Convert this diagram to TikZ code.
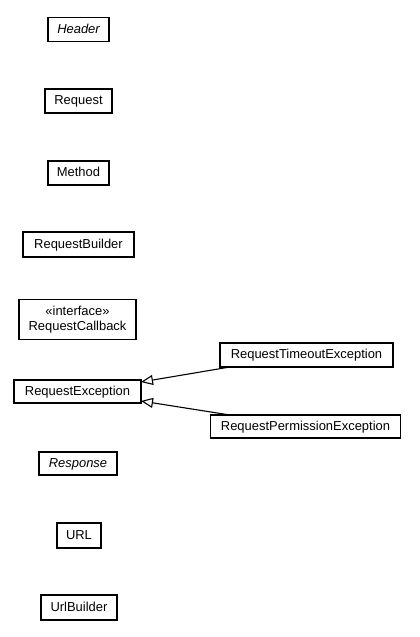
\documentclass[tikz,border=0pt]{standalone}
\usepackage{fontspec}
\setmainfont{Liberation Sans}
\usetikzlibrary{arrows.meta}
\begin{document}
\begin{tikzpicture}[x=1bp,y=-1bp,
  cls/.style={draw=black, line width=1.2bp, fill=white, inner sep=0pt, align=center,
    font=\fontsize{13}{14.5}\selectfont},
  one/.style={cls, text height=10bp, text depth=2.5bp},
  gen/.style={line width=1.1bp, -{Triangle[open, length=12bp, width=10bp, fill=white]}}]
\useasboundingbox (0,0) rectangle (419,637);
\node[one, minimum width=61bp, minimum height=24bp] (header) at (78.5,29.5) {\itshape Header};
\node[one, minimum width=67bp, minimum height=24bp] (request) at (78.5,101) {Request};
\node[one, minimum width=61bp, minimum height=24bp] (method) at (78.5,173) {Method};
\node[one, minimum width=111bp, minimum height=25bp] (builder) at (78.5,244.5) {RequestBuilder};
\node[cls, minimum width=117bp, minimum height=40bp] (callback) at (77.5,319.5) {«interface»\\RequestCallback};
\node[one, minimum width=173bp, minimum height=24bp] (timeout) at (306.5,355) {RequestTimeoutException};
\node[one, minimum width=127bp, minimum height=23bp] (exception) at (77.5,391.5) {RequestException};
\node[one, minimum width=190bp, minimum height=23bp] (permission) at (305.5,426.5) {RequestPermissionException};
\node[one, minimum width=78bp, minimum height=23bp] (response) at (78,463.5) {\itshape Response};
\node[one, minimum width=44bp, minimum height=25bp] (url) at (79,535.5) {URL};
\node[one, minimum width=76bp, minimum height=25bp] (urlbuilder) at (79,607.5) {UrlBuilder};
\coordinate (tfrom) at (230,367);
\coordinate (pfrom) at (230,415);
\coordinate (tto) at (141,382);
\coordinate (pto) at (141,401);
\draw[gen] (tfrom) -- (tto);
\draw[gen] (pfrom) -- (pto);
\end{tikzpicture}
\end{document}
